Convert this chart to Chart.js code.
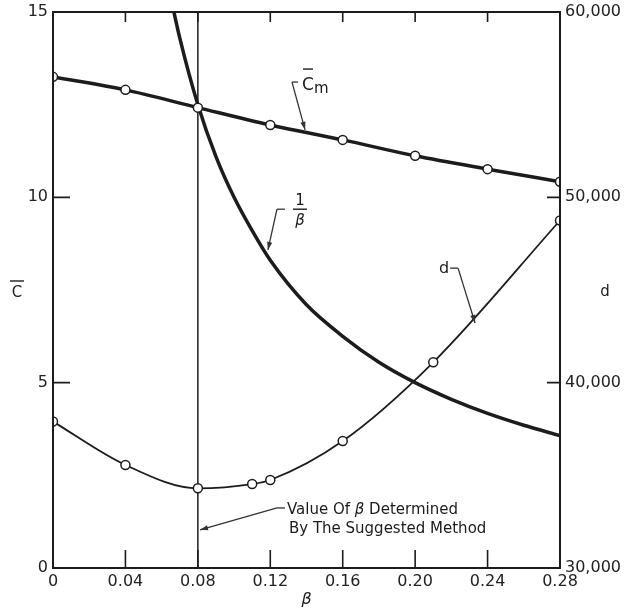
<!DOCTYPE html>
<html>
<head>
<meta charset="utf-8">
<script src="https://cdn.jsdelivr.net/npm/chart.js@4.4.0/dist/chart.umd.min.js"></script>
<style>
  html, body { margin: 0; padding: 0; background: #fff; }
</style>
</head>
<body>
<canvas id="chart" width="627" height="612"></canvas>
<script>
// axes
const betaTicks = [0, 0.04, 0.08, 0.12, 0.16, 0.20, 0.24, 0.28];
const betaTickLabels = ['0', '0.04', '0.08', '0.12', '0.16', '0.20', '0.24', '0.28'];
const cTicks = [0, 5, 10, 15];
const cTickLabels = ['0', '5', '10', '15'];
const dTicks = [30000, 40000, 50000, 60000];
const dTickLabels = ['30,000', '40,000', '50,000', '60,000'];

// C-bar m curve (left axis)
const cmBeta = [0, 0.04, 0.08, 0.12, 0.16, 0.20, 0.24, 0.28];
const cmValues = [13.25, 12.9, 12.42, 11.95, 11.55, 11.12, 10.76, 10.42];

// 1/beta curve (left axis)
const invBeta = [0.065, 0.07, 0.08, 0.09, 0.10, 0.11, 0.12, 0.14, 0.16, 0.18, 0.20, 0.22, 0.24, 0.26, 0.28];
const invValues = [15.4, 14.3, 12.5, 11.1, 10.0, 9.1, 8.3, 7.1, 6.25, 5.55, 5.0, 4.55, 4.17, 3.85, 3.57];

// d curve (right axis)
const dBeta = [0, 0.04, 0.08, 0.11, 0.12, 0.16, 0.21, 0.28];
const dValues = [37900, 35560, 34300, 34530, 34750, 36850, 41100, 48750];

// chosen beta (vertical line)
const chosenBeta = 0.08;

const ink = '#1c1c1c';
const font = '"DejaVu Sans", sans-serif';

const pts = (xs, ys) => xs.map((x, i) => ({ x: x, y: ys[i] }));

// leader arrows, in data units of the left axis
const notes = [
  { tip: [0.1392, 11.82], corner: [0.1320, 13.11], hook: 0.1353 },
  { tip: [0.1187, 8.58], corner: [0.1237, 9.68], hook: 0.1281 },
  { tip: [0.2331, 6.61], corner: [0.2237, 8.09], hook: 0.2193 },
  { tip: [0.0812, 1.03], corner: [0.1237, 1.62], hook: 0.1281 }
];

function arrow(ctx, x0, y0, x1, y1) {
  ctx.beginPath();
  ctx.moveTo(x0, y0);
  ctx.lineTo(x1, y1);
  ctx.stroke();
  const a = Math.atan2(y1 - y0, x1 - x0);
  const L = 8, W = 2.6;
  ctx.beginPath();
  ctx.moveTo(x1, y1);
  ctx.lineTo(x1 - L * Math.cos(a) + W * Math.sin(a), y1 - L * Math.sin(a) - W * Math.cos(a));
  ctx.lineTo(x1 - L * Math.cos(a) - W * Math.sin(a), y1 - L * Math.sin(a) + W * Math.cos(a));
  ctx.closePath();
  ctx.fill();
}

const decor = {
  id: 'decor',
  afterDatasetsDraw(chart) {
    const { ctx, chartArea: a, scales } = chart;
    const sx = scales.x, sy = scales.y, sd = scales.y2;
    ctx.save();
    ctx.strokeStyle = ink;
    ctx.fillStyle = ink;

    // frame
    ctx.lineWidth = 2;
    ctx.strokeRect(a.left, a.top, a.right - a.left, a.bottom - a.top);

    // inward tick marks
    ctx.lineWidth = 1.6;
    ctx.beginPath();
    betaTicks.slice(1, -1).forEach(v => {
      const px = sx.getPixelForValue(v);
      ctx.moveTo(px, a.bottom); ctx.lineTo(px, a.bottom - 18);
      ctx.moveTo(px, a.top); ctx.lineTo(px, a.top + 10);
    });
    cTicks.slice(1, -1).forEach(v => {
      const py = sy.getPixelForValue(v);
      ctx.moveTo(a.left, py); ctx.lineTo(a.left + 17, py);
    });
    dTicks.slice(1, -1).forEach(v => {
      const py = sd.getPixelForValue(v);
      ctx.moveTo(a.right, py); ctx.lineTo(a.right - 13, py);
    });
    ctx.stroke();

    // leaders
    ctx.lineWidth = 1.3;
    ctx.strokeStyle = '#333';
    ctx.fillStyle = '#333';
    notes.forEach(n => {
      const tx = sx.getPixelForValue(n.tip[0]), ty = sy.getPixelForValue(n.tip[1]);
      const cx = sx.getPixelForValue(n.corner[0]), cy = sy.getPixelForValue(n.corner[1]);
      const hx = sx.getPixelForValue(n.hook);
      ctx.beginPath();
      ctx.moveTo(hx, cy); ctx.lineTo(cx, cy);
      ctx.stroke();
      arrow(ctx, cx, cy, tx, ty);
    });

    ctx.fillStyle = ink;
    ctx.strokeStyle = ink;
    ctx.textBaseline = 'middle';

    // C-bar m label
    let cx = sx.getPixelForValue(notes[0].hook), cy = sy.getPixelForValue(notes[0].corner[1]);
    ctx.font = '17px ' + font;
    ctx.textAlign = 'left';
    ctx.fillText('C', cx + 4, cy + 4);
    ctx.font = '15px ' + font;
    ctx.fillText('m', cx + 16, cy + 7);
    ctx.lineWidth = 1.4;
    ctx.beginPath();
    ctx.moveTo(cx + 5, cy - 13); ctx.lineTo(cx + 15, cy - 13);
    ctx.stroke();

    // 1/beta label
    cx = sx.getPixelForValue(notes[1].hook); cy = sy.getPixelForValue(notes[1].corner[1]);
    ctx.textAlign = 'center';
    ctx.font = '15px ' + font;
    ctx.fillText('1', cx + 15, cy - 8);
    ctx.beginPath();
    ctx.moveTo(cx + 8, cy); ctx.lineTo(cx + 22, cy);
    ctx.stroke();
    ctx.font = 'italic 15px ' + font;
    ctx.fillText('\u03B2', cx + 15, cy + 12);

    // d label
    cx = sx.getPixelForValue(notes[2].hook); cy = sy.getPixelForValue(notes[2].corner[1]);
    ctx.font = '16px ' + font;
    ctx.textAlign = 'right';
    ctx.fillText('d', cx - 1, cy + 1);

    // chosen value label
    cx = sx.getPixelForValue(notes[3].hook); cy = sy.getPixelForValue(notes[3].corner[1]);
    ctx.font = '15px ' + font;
    ctx.textAlign = 'left';
    ctx.fillText('Value Of ', cx + 2, cy + 2);
    let w = ctx.measureText('Value Of ').width;
    ctx.font = 'italic 15px ' + font;
    ctx.fillText('\u03B2', cx + 2 + w, cy + 2);
    w += ctx.measureText('\u03B2').width;
    ctx.font = '15px ' + font;
    ctx.fillText(' Determined', cx + 2 + w, cy + 2);
    ctx.fillText('By The Suggested Method', cx + 4, cy + 21);

    // axis titles
    const midY = (a.top + a.bottom) / 2;
    ctx.font = '15px ' + font;
    ctx.textAlign = 'center';
    ctx.fillText('C', 17, midY + 3);
    ctx.lineWidth = 1.4;
    ctx.beginPath();
    ctx.moveTo(10, midY - 9); ctx.lineTo(24, midY - 9);
    ctx.stroke();
    ctx.fillText('d', a.right + 45, midY + 2);
    ctx.font = 'italic 16px ' + font;
    ctx.fillText('\u03B2', (a.left + a.right) / 2, a.bottom + 32);

    ctx.restore();
  }
};

new Chart(document.getElementById('chart'), {
  type: 'line',
  data: {
    datasets: [
      {
        label: 'Cm',
        data: pts(cmBeta, cmValues),
        yAxisID: 'y',
        borderColor: ink,
        borderWidth: 3.5,
        cubicInterpolationMode: 'monotone',
        pointRadius: 4.5,
        pointBackgroundColor: '#fff',
        pointBorderColor: ink,
        pointBorderWidth: 1.5
      },
      {
        label: 'd',
        data: pts(dBeta, dValues),
        yAxisID: 'y2',
        borderColor: ink,
        borderWidth: 1.8,
        cubicInterpolationMode: 'monotone',
        pointRadius: 4.5,
        pointBackgroundColor: '#fff',
        pointBorderColor: ink,
        pointBorderWidth: 1.5
      },
      {
        label: '1/beta',
        data: pts(invBeta, invValues),
        yAxisID: 'y',
        borderColor: ink,
        borderWidth: 3.5,
        cubicInterpolationMode: 'monotone',
        pointRadius: 0
      },
      {
        label: 'chosen',
        data: [{ x: chosenBeta, y: cTicks[0] }, { x: chosenBeta, y: cTicks[cTicks.length - 1] }],
        yAxisID: 'y',
        borderColor: ink,
        borderWidth: 1.5,
        pointRadius: 0
      }
    ]
  },
  options: {
    responsive: false,
    animation: false,
    layout: { padding: { top: 12, left: 0, right: 0, bottom: 0 } },
    plugins: { legend: { display: false }, tooltip: { enabled: false } },
    scales: {
      x: {
        type: 'linear',
        min: 0,
        max: 0.28,
        afterBuildTicks: s => { s.ticks = betaTicks.map(v => ({ value: v })); },
        afterFit: s => { s.height = 44; },
        grid: { display: false },
        border: { display: false },
        ticks: {
          autoSkip: false,
          maxRotation: 0,
          padding: -4,
          color: '#222',
          font: { family: font, size: 16 },
          callback: (v, i) => betaTickLabels[i]
        }
      },
      y: {
        position: 'left',
        min: 0,
        max: 15,
        afterBuildTicks: s => { s.ticks = cTicks.map(v => ({ value: v })); },
        afterFit: s => { s.width = 53; },
        grid: { display: false },
        border: { display: false },
        ticks: {
          padding: -3,
          color: '#222',
          font: { family: font, size: 16 },
          callback: (v, i) => cTickLabels[i]
        }
      },
      y2: {
        position: 'right',
        min: 30000,
        max: 60000,
        afterBuildTicks: s => { s.ticks = dTicks.map(v => ({ value: v })); },
        afterFit: s => { s.width = 67; },
        grid: { display: false },
        border: { display: false },
        ticks: {
          padding: -3,
          color: '#222',
          font: { family: font, size: 16 },
          callback: (v, i) => dTickLabels[i]
        }
      }
    }
  },
  plugins: [decor]
});
</script>
</body>
</html>
